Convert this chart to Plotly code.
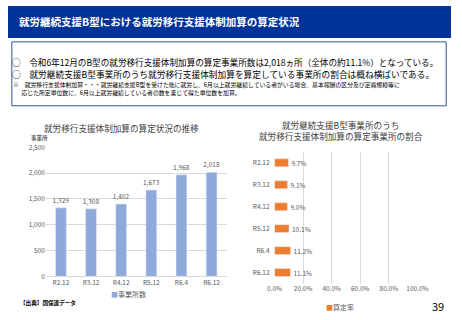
import plotly.graph_objects as go

W, H = 462, 320
FONT = "Noto Sans CJK JP"

categories = ["R2.12", "R3.12", "R4.12", "R5.12", "R6.4", "R6.12"]
offices = [1329, 1308, 1402, 1673, 1968, 2018]
rates = [9.7, 9.1, 9.0, 10.1, 11.2, 11.1]
y_ticks = [0, 500, 1000, 1500, 2000, 2500]
x_ticks = [0, 20, 40, 60, 80, 100]

BAR_BLUE = "#8FA9DA"
BAR_ORANGE = "#ED7D31"
GRID = "#D9D9D9"
TICK = "#595959"


def px(x):
    return x / W


def py(y):
    return 1 - y / H


fig = go.Figure()

fig.add_trace(go.Bar(
    x=categories, y=offices, marker_color=BAR_BLUE, width=0.36,
    text=[f"{v:,}" for v in offices], textposition="outside", constraintext="none",
    textfont=dict(size=6.5, color=TICK, family=FONT), cliponaxis=False,
    xaxis="x", yaxis="y", showlegend=False, name="事業所数",
))

fig.add_trace(go.Bar(
    y=categories, x=rates, orientation="h", marker_color=BAR_ORANGE, width=0.36,
    text=[f"{v:.1f}%" for v in rates], textposition="outside", constraintext="none",
    textfont=dict(size=6.5, color=TICK, family=FONT), cliponaxis=False,
    xaxis="x2", yaxis="y2", showlegend=False, name="算定率",
))

fig.update_layout(
    width=W, height=H, margin=dict(l=0, r=0, t=0, b=0),
    paper_bgcolor="white", plot_bgcolor="white",
    font=dict(family=FONT, color="#000000"),
    xaxis=dict(domain=[px(39.5), px(228)], showgrid=False, showline=True,
               linecolor=GRID, linewidth=1, ticks="",
               tickfont=dict(size=6.5, color=TICK), anchor="y"),
    yaxis=dict(domain=[py(279), py(146)], range=[0, 2500], tickvals=y_ticks,
               tickformat=",", showgrid=True, gridcolor=GRID, gridwidth=1,
               zeroline=False, showline=False, ticks="",
               tickfont=dict(size=6.5, color=TICK), anchor="x"),
    xaxis2=dict(domain=[px(278), px(427)], range=[0, 100], tickvals=x_ticks,
                ticktext=[f"{v:.1f}%" for v in x_ticks],
                showgrid=True, gridcolor=GRID, gridwidth=1, zeroline=False,
                showline=False, ticks="", tickfont=dict(size=6.5, color=TICK),
                anchor="y2"),
    yaxis2=dict(domain=[py(286.5), py(150.5)], autorange="reversed",
                showgrid=False, showline=False, ticks="", ticklabelstandoff=4,
                tickfont=dict(size=6.5, color=TICK), anchor="x2"),
    bargap=0.64,
)

shapes = [
    dict(type="rect", xref="paper", yref="paper", x0=0, x1=1, y0=py(33), y1=1,
         fillcolor="#003399", line=dict(width=0), layer="below"),
    dict(type="rect", xref="paper", yref="paper", x0=px(4), x1=px(457),
         y0=py(103), y1=py(37), fillcolor="rgba(0,0,0,0)",
         line=dict(color="#2F5597", width=1)),
]
fig.update_layout(shapes=shapes)


def ann(text, x, y, size, color="#000000", xanchor="left", align="left"):
    fig.add_annotation(text=text, x=px(x), y=py(y), xref="paper", yref="paper",
                       showarrow=False, xanchor=xanchor, yanchor="middle",
                       align=align, font=dict(size=size, color=color, family=FONT))


ann("<b>就労継続支援B型における就労移行支援体制加算の算定状況</b>", 9, 16, 10.5, "white")
ann("○　令和6年12月のB型の就労移行支援体制加算の算定事業所数は2,018ヵ所（全体の約11.1%）となっている。", 2, 58, 8.6)
ann("○　就労継続支援B型事業所のうち就労移行支援体制加算を算定している事業所の割合は概ね横ばいである。", 2, 71, 8.7)
ann("※　就労移行支援体制加算・・・就労継続支援B型を受けた後に就労し、6月以上就労継続している者がいる場合、基本報酬の区分及び定員規模等に"
    "<br>　  応じた所定単位数に、6月以上就労継続している者の数を乗じて得た単位数を加算。", 3, 85.5, 5.85)

ann("就労移行支援体制加算の算定状況の推移", 118, 126, 8.6, "#404040", xanchor="center")
ann("<b>事業所</b>", 22, 136, 5.5, TICK)
ann("就労継続支援B型事業所のうち<br>就労移行支援体制加算の算定事業所の割合", 347, 129, 8.6, "#404040",
    xanchor="center", align="center")

ann(f"<span style='color:{BAR_BLUE}'>■</span>事業所数", 126, 297, 7, TICK, xanchor="center")
ann(f"<span style='color:{BAR_ORANGE}'>■</span>算定率", 346, 311, 7, TICK, xanchor="center")
ann("<b>【出典】国保連データ</b>", 10, 307, 5.6)
ann("39", 457, 310, 11, "#000000", xanchor="right")

fig.write_html("out.html")
